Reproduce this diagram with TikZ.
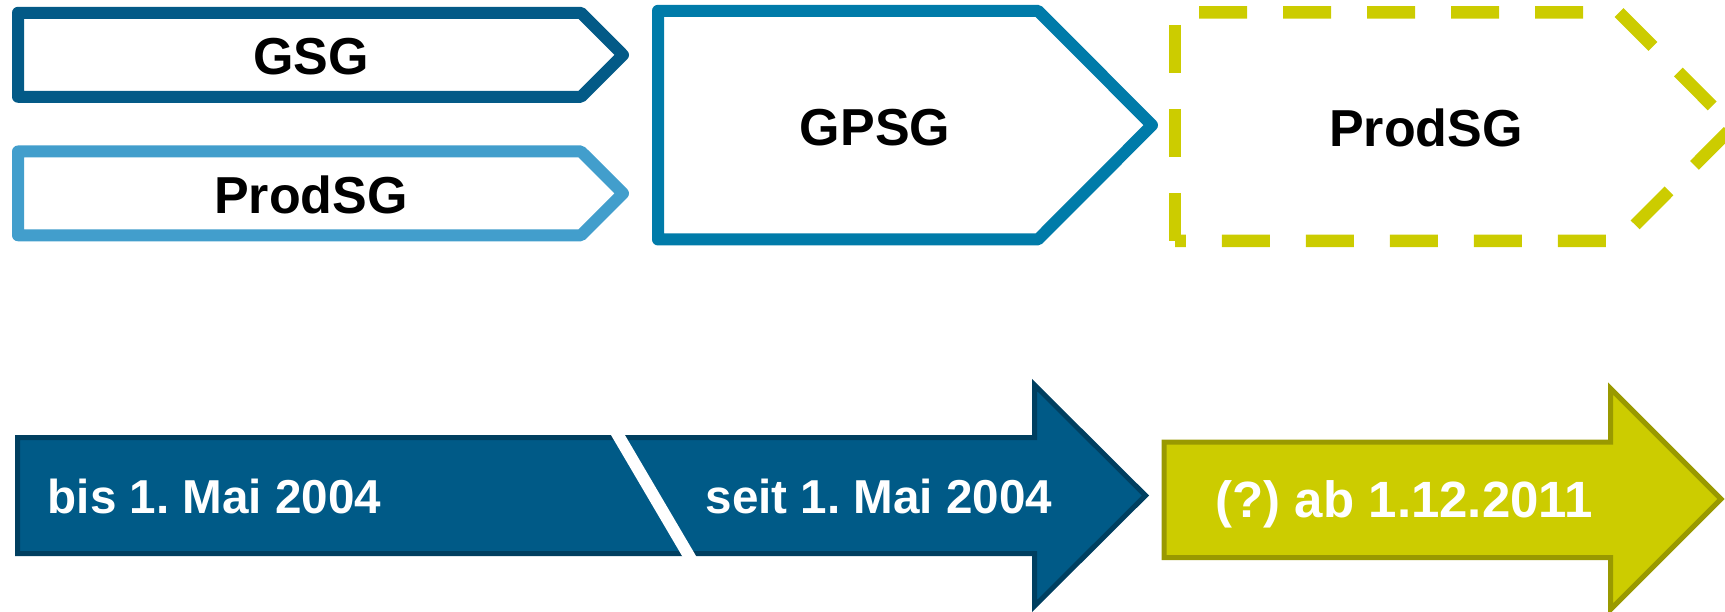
\documentclass[tikz,border=0pt]{standalone}
\usepackage{fontspec}
\setmainfont{Liberation Sans}
\definecolor{gsgblue}{RGB}{3,90,135}
\definecolor{prodblue}{RGB}{66,158,204}
\definecolor{gpsgblue}{RGB}{0,123,169}
\definecolor{limeg}{RGB}{204,204,0}
\definecolor{oliveg}{RGB}{153,153,0}
\definecolor{arrowblue}{RGB}{0,90,135}
\definecolor{arrowedge}{RGB}{0,63,96}
\begin{document}
\frenchspacing
\begin{tikzpicture}[x=1pt,y=-1pt,
  boxline/.style={line width=12pt,line join=round,fill=white},
  dashline/.style={draw=limeg,line width=12.5pt,line cap=butt,line join=miter},
  toptext/.style={font=\fontsize{52}{60}\selectfont\bfseries,inner sep=0pt,anchor=base},
  bottext/.style={font=\fontsize{47.6}{56}\selectfont\bfseries,inner sep=0pt,anchor=base west,text=white},
  greentext/.style={font=\fontsize{51}{60}\selectfont\bfseries,inner sep=0pt,anchor=base west,text=white},
  bigarrow/.style={line width=5pt,line join=miter}]
\useasboundingbox (0,0) rectangle (1725,612);
% top row
\draw[boxline,draw=gsgblue] (18,12.8) -- (581,12.8) -- (623,55) -- (581,96.8) -- (18,96.8) -- cycle;
\node[toptext] (gsg) at (311,75) {GSG};
\draw[boxline,draw=prodblue] (18,151.5) -- (581,151.5) -- (623,193.4) -- (581,235.3) -- (18,235.3) -- cycle;
\node[toptext] (prodold) at (311,213.3) {ProdSG};
\draw[boxline,draw=gpsgblue] (658,10.8) -- (1038,10.8) -- (1152,125.15) -- (1038,239.5) -- (658,239.5) -- cycle;
\node[toptext] (gpsg) at (875,145.5) {GPSG};
\draw[dashline,dash pattern=on 48pt off 36pt,dash phase=60pt] (1175,12.5) -- (1619,12.5) -- (1733,126.75) -- (1619,241) -- (1175,241);
\draw[dashline,dash pattern=on 48pt off 36pt,dash phase=71.5pt] (1175,12.5) -- (1175,241);
\node[toptext] (prodnew) at (1426,146.5) {ProdSG};
% bottom row
\draw[bigarrow,fill=arrowblue,draw=arrowedge] (17.5,437.5) -- (1034.5,437.5) -- (1034.5,385) -- (1145.5,495.5) -- (1034.5,606) -- (1034.5,553.5) -- (17.5,553.5) -- cycle;
\draw[white,line width=12pt] (615,430) -- (692,561);
\node[bottext] (bis) at (47.5,513) {bis 1. Mai 2004};
\node[bottext] (seit) at (705.5,513) {seit 1. Mai 2004};
\draw[bigarrow,fill=limeg,draw=oliveg] (1164,442) -- (1610.5,442) -- (1610.5,388.5) -- (1721,499) -- (1610.5,609.5) -- (1610.5,557.5) -- (1164,557.5) -- cycle;
\node[greentext] (ab) at (1215.5,517) {(?) ab 1.12.2011};
\end{tikzpicture}
\end{document}
